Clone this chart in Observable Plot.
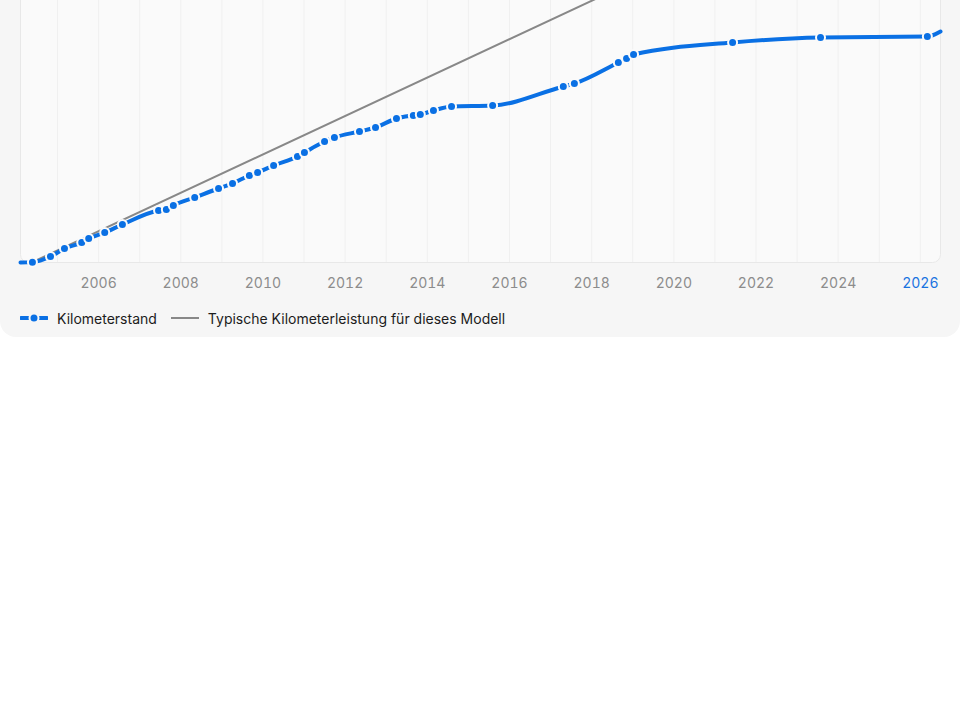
<!DOCTYPE html>
<html>
<head>
<meta charset="utf-8">
<script src="https://cdn.jsdelivr.net/npm/d3@7"></script>
<script src="https://cdn.jsdelivr.net/npm/@observablehq/plot@0.6"></script>
<style>
  html, body { margin: 0; padding: 0; background: #ffffff; }
  body { font-family: Inter, "Noto Sans", sans-serif; }
  #card { position: relative; width: 960px; height: 337px; background: #f6f6f6; border-radius: 0 0 16px 16px; overflow: hidden; }
  #chart { position: absolute; left: 0; top: -40px; }
  #legend { position: absolute; left: 20px; top: 308px; height: 20px; display: flex; align-items: center; font-size: 14px; color: #1c1c1c; }
  .item { display: flex; align-items: center; margin-right: 14px; }
  .item svg { margin-right: 9px; }
</style>
</head>
<body>
<div id="card">
  <div id="chart"></div>
  <div id="legend">
    <div class="item">
      <svg width="28" height="12">
        <line x1="1" y1="6" x2="27" y2="6" stroke="#0a70e4" stroke-width="4" stroke-linecap="round"></line>
        <circle cx="14" cy="6" r="4.5" fill="#0a70e4" stroke="#f6f6f6" stroke-width="2"></circle>
      </svg>
      <span>Kilometerstand</span>
    </div>
    <div class="item">
      <svg width="28" height="12">
        <line x1="0" y1="6" x2="28" y2="6" stroke="#888888" stroke-width="2"></line>
      </svg>
      <span>Typische Kilometerleistung für dieses Modell</span>
    </div>
  </div>
</div>
<script>
// Odometer readings (decimal year, km)
const readingYears = [2004.39, 2004.83, 2005.17, 2005.59, 2005.76, 2006.15, 2006.58, 2007.46, 2007.65, 2007.82,
  2008.34, 2008.92, 2009.26, 2009.67, 2009.87, 2010.26, 2010.84, 2011.01, 2011.50, 2011.74,
  2012.35, 2012.74, 2013.25, 2013.66, 2013.83, 2014.15, 2014.59, 2015.59, 2017.31, 2017.58,
  2018.65, 2018.85, 2019.02, 2021.43, 2023.57, 2026.17];
const readingKm = [300, 4800, 11200, 16000, 19200, 24000, 30400, 41600, 42400, 45600,
  52000, 59200, 63200, 69600, 72000, 77600, 84800, 88000, 96800, 100000,
  104800, 108000, 115200, 117600, 118400, 121600, 124800, 125600, 140800, 143200,
  160000, 163200, 166400, 176000, 180000, 180800];
// First registration and today's projected value
const startYear = 2004.1, startKm = 0;
const todayYear = 2026.49, todayKm = 184800;
// Typical mileage for this model (straight line from the first reading)
const typicalYears = [2004.39, 2026.49];
const typicalKm = [300, 339800];
// Axis ticks
const tickYears = [2006, 2008, 2010, 2012, 2014, 2016, 2018, 2020, 2022, 2024, 2026];
const gridYears = [2005, 2006, 2007, 2008, 2009, 2010, 2011, 2012, 2013, 2014, 2015, 2016, 2017, 2018, 2019, 2020, 2021, 2022, 2023, 2024, 2025, 2026];
const currentYear = 2026;

const BLUE = "#0a70e4";

const readings = readingYears.map((y, i) => ({year: y, km: readingKm[i]}));
const lineData = [{year: startYear, km: startKm}, ...readings, {year: todayYear, km: todayKm}];
const typical = typicalYears.map((y, i) => ({year: y, km: typicalKm[i]}));

const chart = Plot.plot({
  width: 960,
  height: 342,
  marginTop: 0,
  marginLeft: 20,
  marginRight: 20,
  marginBottom: 40,
  style: {fontFamily: "Inter, 'Noto Sans', sans-serif", fontSize: "14px", background: "transparent", overflow: "visible"},
  x: {domain: [startYear, todayYear]},
  y: {domain: [0, 241600]},
  marks: [
    Plot.frame({fill: "#fafafa", stroke: "#e8e8e8", rx: 8}),
    Plot.gridX(gridYears, {stroke: "#f0f0f0", strokeOpacity: 1}),
    Plot.axisX(tickYears, {
      tickSize: 0,
      tickPadding: 16,
      tickFormat: d => String(d),
      fill: d => d === currentYear ? "#1a73e0" : "#8c8c8c",
      fontSize: 14,
      label: null
    }),
    Plot.axisY({ticks: [], label: null, tickSize: 0}),
    Plot.line(typical, {x: "year", y: "km", stroke: "#888888", strokeWidth: 2, clip: true}),
    Plot.line(lineData, {x: "year", y: "km", stroke: BLUE, strokeWidth: 4, curve: "monotone-x"}),
    Plot.dot(readings, {x: "year", y: "km", r: 4.5, fill: BLUE, stroke: "#fafafa", strokeWidth: 2})
  ]
});
document.getElementById("chart").appendChild(chart);
</script>
</body>
</html>
